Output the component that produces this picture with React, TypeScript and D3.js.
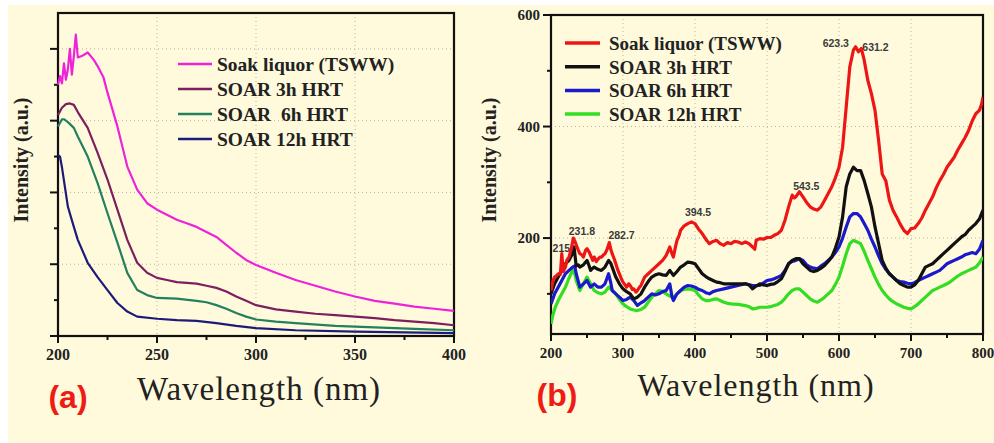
import React from "react";
import * as d3 from "d3";

// ---------- Panel (a): UV-Vis absorbance ----------
const uvLegend = ["Soak liquor (TSWW)", "SOAR 3h HRT", "SOAR  6h HRT", "SOAR 12h HRT"];
const uvColors = ["#ee22d8", "#7d1f5f", "#23805f", "#1d1b7a"];
const uvXTicks = [200, 250, 300, 350, 400];

const uvSoak: [number, number][] = [
  [200, 3.5], [201, 3.62], [202, 3.52], [203, 3.8], [204, 3.57], [205, 3.72], [206, 4.0],
  [207, 3.64], [208, 3.9], [209, 4.2], [210, 3.88], [212, 3.9], [215, 3.95], [218, 3.85],
  [220, 3.76], [223, 3.6], [225, 3.39], [230, 2.92], [235, 2.36], [240, 2.04], [245, 1.85],
  [250, 1.76], [255, 1.69], [260, 1.62], [265, 1.57], [270, 1.52], [275, 1.45], [280, 1.38],
  [285, 1.27], [290, 1.16], [295, 1.06], [300, 0.99], [310, 0.88], [320, 0.78], [330, 0.7],
  [340, 0.62], [350, 0.55], [360, 0.49], [370, 0.45], [380, 0.41], [390, 0.38], [400, 0.35],
];
const uv3h: [number, number][] = [
  [200, 3.08], [202, 3.18], [204, 3.23], [206, 3.24], [208, 3.22], [210, 3.12], [215, 2.9],
  [220, 2.55], [225, 2.18], [230, 1.76], [235, 1.34], [240, 1.02], [245, 0.88], [250, 0.81],
  [255, 0.78], [260, 0.75], [270, 0.73], [275, 0.7], [280, 0.67], [285, 0.62], [290, 0.55],
  [295, 0.49], [300, 0.43], [310, 0.37], [320, 0.34], [330, 0.31], [340, 0.29], [350, 0.27],
  [360, 0.25], [370, 0.22], [380, 0.2], [390, 0.18], [400, 0.15],
];
const uv6h: [number, number][] = [
  [200, 2.92], [202, 3.02], [203, 3.02], [205, 2.98], [208, 2.9], [210, 2.78], [215, 2.5],
  [220, 2.13], [225, 1.71], [230, 1.3], [235, 0.88], [240, 0.64], [245, 0.57], [250, 0.53],
  [260, 0.52], [270, 0.49], [275, 0.47], [280, 0.43], [285, 0.38], [290, 0.32], [295, 0.27],
  [300, 0.23], [310, 0.2], [320, 0.18], [340, 0.14], [360, 0.12], [380, 0.1], [400, 0.08],
];
const uv12h: [number, number][] = [
  [200, 2.52], [201, 2.5], [202, 2.35], [205, 1.8], [208, 1.52], [210, 1.34], [215, 1.02],
  [220, 0.82], [225, 0.64], [230, 0.46], [235, 0.34], [240, 0.27], [250, 0.24], [260, 0.22],
  [270, 0.21], [280, 0.18], [290, 0.14], [300, 0.11], [320, 0.08], [350, 0.06], [400, 0.04],
];

// ---------- Panel (b): fluorescence emission ----------
const flLegend = ["Soak liquor (TSWW)", "SOAR 3h HRT", "SOAR 6h HRT", "SOAR 12h HRT"];
const flColors = ["#ee1515", "#111111", "#1a1acc", "#33dd22"];
const flXTicks = [200, 300, 400, 500, 600, 700, 800];
const flYTicks = [200, 400, 600];

const flSoak: [number, number][] = [
  [200, 106], [203, 125], [205, 130], [208, 133], [210, 136], [213, 135], [215, 172], [217, 140],
  [220, 148], [222, 160], [225, 166], [228, 180], [231, 200], [233, 195], [235, 188], [238, 178],
  [240, 172], [243, 170], [245, 166], [248, 178], [250, 181], [253, 175], [255, 169], [258, 160],
  [260, 166], [263, 158], [265, 162], [268, 166], [270, 166], [273, 170], [275, 172], [278, 180],
  [281, 192], [283, 180], [285, 172], [288, 162], [290, 154], [293, 142], [295, 136], [298, 126],
  [300, 121], [303, 116], [305, 112], [308, 118], [310, 115], [313, 108], [315, 109], [318, 103],
  [320, 106], [323, 112], [325, 115], [328, 124], [330, 130], [335, 136], [340, 142], [345, 148],
  [350, 154], [355, 160], [360, 169], [363, 178], [365, 184], [368, 172], [370, 166], [373, 185],
  [375, 196], [378, 205], [380, 214], [385, 222], [390, 226], [395, 229], [400, 226], [405, 216],
  [410, 208], [415, 198], [420, 190], [425, 194], [430, 196], [435, 190], [440, 187], [445, 192],
  [450, 190], [455, 194], [460, 193], [465, 190], [470, 193], [475, 190], [480, 184], [483, 180],
  [485, 196], [490, 199], [495, 198], [500, 201], [505, 201], [510, 205], [515, 208], [520, 214],
  [525, 232], [530, 256], [535, 277], [538, 272], [540, 274], [545, 283], [550, 274], [555, 264],
  [560, 256], [565, 252], [570, 250], [575, 256], [580, 268], [585, 280], [590, 292], [595, 308],
  [600, 327], [605, 363], [610, 435], [615, 507], [620, 537], [623, 543], [627, 534], [631, 540],
  [635, 519], [640, 483], [645, 459], [650, 429], [655, 375], [660, 315], [665, 303], [670, 268],
  [675, 250], [680, 238], [685, 225], [690, 214], [695, 208], [700, 217], [705, 218], [710, 226],
  [715, 236], [720, 250], [725, 262], [730, 274], [735, 290], [740, 303], [745, 314], [750, 327],
  [755, 336], [760, 345], [765, 358], [770, 369], [775, 380], [780, 393], [785, 410], [790, 423],
  [795, 429], [798, 440], [800, 453],
];
const fl3h: [number, number][] = [
  [200, 100], [205, 118], [210, 130], [215, 142], [220, 154], [225, 160], [229, 170], [232, 184],
  [235, 150], [238, 152], [240, 148], [245, 152], [250, 160], [253, 150], [255, 142], [258, 146],
  [260, 148], [265, 144], [270, 142], [275, 148], [280, 160], [283, 155], [285, 148], [290, 130],
  [295, 118], [300, 109], [305, 104], [310, 100], [315, 91], [320, 94], [325, 100], [330, 112],
  [335, 122], [340, 130], [345, 134], [350, 136], [355, 134], [360, 133], [365, 142], [370, 133],
  [375, 140], [380, 148], [385, 152], [390, 157], [395, 156], [400, 154], [405, 145], [410, 136],
  [415, 131], [420, 127], [425, 124], [430, 121], [435, 120], [440, 118], [450, 118], [460, 118],
  [470, 118], [475, 116], [480, 109], [485, 114], [490, 118], [495, 116], [500, 115], [505, 117],
  [510, 118], [515, 122], [520, 127], [525, 140], [530, 154], [535, 160], [540, 163], [545, 163],
  [550, 154], [555, 148], [560, 142], [565, 140], [570, 142], [575, 146], [580, 151], [585, 158],
  [590, 166], [595, 182], [600, 202], [605, 238], [610, 292], [615, 315], [620, 327], [625, 321],
  [630, 321], [635, 303], [640, 280], [645, 256], [650, 220], [655, 190], [660, 160], [665, 146],
  [670, 136], [675, 130], [680, 124], [685, 118], [690, 115], [695, 112], [700, 112], [705, 116],
  [710, 124], [715, 136], [720, 148], [725, 151], [730, 154], [735, 160], [740, 166], [745, 172],
  [750, 178], [755, 184], [760, 190], [765, 196], [770, 202], [775, 206], [780, 214], [785, 220],
  [790, 226], [795, 234], [800, 250],
];
const fl6h: [number, number][] = [
  [200, 82], [205, 100], [210, 112], [215, 124], [220, 136], [225, 142], [230, 148], [233, 150],
  [235, 136], [238, 122], [240, 112], [245, 118], [250, 124], [255, 112], [260, 118], [265, 112],
  [270, 112], [275, 118], [280, 136], [283, 120], [285, 106], [290, 100], [295, 94], [300, 88],
  [305, 90], [310, 94], [315, 88], [320, 79], [325, 84], [330, 88], [335, 94], [340, 100],
  [345, 98], [350, 100], [355, 104], [360, 106], [365, 118], [368, 95], [370, 88], [375, 100],
  [380, 106], [385, 112], [390, 115], [395, 114], [400, 112], [405, 108], [410, 106], [415, 102],
  [420, 100], [425, 104], [430, 106], [440, 109], [450, 112], [460, 115], [470, 118], [480, 115],
  [490, 115], [500, 124], [505, 125], [510, 127], [515, 130], [520, 133], [525, 142], [530, 154],
  [535, 158], [540, 160], [545, 163], [550, 160], [555, 152], [560, 148], [565, 146], [570, 145],
  [575, 150], [580, 154], [585, 160], [590, 166], [595, 174], [600, 184], [605, 200], [610, 220],
  [615, 238], [620, 244], [625, 244], [630, 238], [635, 226], [640, 214], [645, 198], [650, 184],
  [655, 168], [660, 154], [665, 144], [670, 136], [675, 130], [680, 124], [685, 122], [690, 121],
  [695, 119], [700, 118], [705, 120], [710, 124], [715, 127], [720, 130], [725, 133], [730, 136],
  [735, 139], [740, 142], [745, 148], [750, 154], [755, 157], [760, 160], [765, 163], [770, 166],
  [775, 170], [780, 172], [785, 174], [790, 172], [795, 180], [800, 196],
];
const fl12h: [number, number][] = [
  [200, 46], [203, 64], [206, 76], [210, 88], [215, 100], [220, 112], [225, 128], [230, 142],
  [233, 136], [235, 124], [240, 106], [245, 118], [250, 130], [255, 118], [260, 106], [265, 102],
  [270, 100], [275, 103], [280, 112], [285, 106], [290, 100], [295, 90], [300, 82], [305, 77],
  [310, 73], [315, 71], [320, 70], [325, 72], [330, 76], [335, 85], [340, 94], [345, 100],
  [350, 106], [355, 104], [360, 100], [365, 96], [370, 94], [375, 100], [380, 106], [385, 108],
  [390, 109], [395, 108], [400, 106], [405, 98], [410, 91], [415, 88], [420, 88], [425, 90],
  [430, 91], [435, 88], [440, 85], [445, 83], [450, 82], [460, 81], [470, 79], [475, 77],
  [480, 73], [485, 74], [490, 76], [500, 76], [505, 77], [510, 79], [515, 81], [520, 85],
  [525, 92], [530, 100], [535, 106], [540, 109], [545, 109], [550, 103], [555, 97], [560, 91],
  [565, 87], [570, 85], [575, 89], [580, 94], [585, 100], [590, 106], [595, 117], [600, 130],
  [605, 150], [610, 172], [615, 190], [620, 196], [625, 193], [630, 190], [635, 176], [640, 160],
  [645, 145], [650, 130], [655, 117], [660, 106], [665, 98], [670, 91], [675, 86], [680, 82],
  [685, 79], [690, 76], [695, 74], [700, 73], [705, 77], [710, 82], [715, 88], [720, 94],
  [725, 100], [730, 106], [735, 109], [740, 112], [745, 115], [750, 118], [755, 122], [760, 127],
  [765, 132], [770, 136], [775, 139], [780, 142], [785, 145], [790, 148], [795, 155], [800, 166],
];

// peak positions labelled on the emission spectrum
const flPeaks = ["215.", "231.8", "282.7", "394.5", "543.5", "623.3", "631.2"];
const flPeakAt: [number, number][] = [
  [215, 172], [231.8, 200], [282.7, 192], [394.5, 229], [543.5, 283], [623.3, 543], [631.2, 540],
];

const SERIF = "'Liberation Serif', 'Times New Roman', serif";
const SANS = "'Liberation Sans', Arial, sans-serif";

type Box = { l: number; r: number; t: number; b: number };

function Frame({
  box, x, y, xMajor, xMinor, yMajor, yMinor, yLabels, tickFont,
}: {
  box: Box;
  x: d3.ScaleLinear<number, number>;
  y: d3.ScaleLinear<number, number>;
  xMajor: number[]; xMinor: number[]; yMajor: number[]; yMinor: number[];
  yLabels: boolean; tickFont: number;
}) {
  return (
    <g>
      {/* dotted grid */}
      {xMajor.filter((v) => x(v) > box.l + 1 && x(v) < box.r - 1).map((v) => (
        <line key={"gx" + v} x1={x(v)} x2={x(v)} y1={box.t} y2={box.b}
          stroke="#b8b4a0" strokeWidth={1} strokeDasharray="1 3" />
      ))}
      {yMajor.filter((v) => y(v) > box.t + 1 && y(v) < box.b - 1).map((v) => (
        <line key={"gy" + v} x1={box.l} x2={box.r} y1={y(v)} y2={y(v)}
          stroke="#b8b4a0" strokeWidth={1} strokeDasharray="1 3" />
      ))}
      {/* ticks */}
      {xMajor.map((v) => (
        <line key={"tx" + v} x1={x(v)} x2={x(v)} y1={box.b} y2={box.b + 7} stroke="#111" strokeWidth={2} />
      ))}
      {xMinor.map((v) => (
        <line key={"mx" + v} x1={x(v)} x2={x(v)} y1={box.b} y2={box.b + 4} stroke="#111" strokeWidth={2} />
      ))}
      {yMajor.map((v) => (
        <line key={"ty" + v} x1={box.l - 8} x2={box.l} y1={y(v)} y2={y(v)} stroke="#111" strokeWidth={2} />
      ))}
      {yMinor.map((v) => (
        <line key={"my" + v} x1={box.l - 4} x2={box.l} y1={y(v)} y2={y(v)} stroke="#111" strokeWidth={2} />
      ))}
      {xMajor.map((v) => (
        <text key={"lx" + v} x={x(v)} y={box.b + 24} textAnchor="middle"
          fontFamily={SERIF} fontWeight="bold" fontSize={tickFont} fill="#222">{v}</text>
      ))}
      {yLabels && yMajor.map((v) => (
        <text key={"ly" + v} x={box.l - 11} y={y(v) + 5} textAnchor="end"
          fontFamily={SERIF} fontWeight="bold" fontSize={tickFont} fill="#222">{v}</text>
      ))}
      <rect x={box.l} y={box.t} width={box.r - box.l} height={box.b - box.t}
        fill="none" stroke="#111" strokeWidth={2.2} />
    </g>
  );
}

export default function App() {
  // panel (a)
  const boxA: Box = { l: 58, r: 454, t: 13, b: 336 };
  const xA = d3.scaleLinear().domain([200, 400]).range([boxA.l, boxA.r]);
  const yA = d3.scaleLinear().domain([0, 4.5]).range([boxA.b, boxA.t]);
  const lineA = d3.line<[number, number]>().x((d) => xA(d[0])).y((d) => yA(d[1])).curve(d3.curveLinear);
  const uvSeries = [uvSoak, uv3h, uv6h, uv12h];

  // panel (b)
  const boxB: Box = { l: 551, r: 983, t: 15, b: 334 };
  const xB = d3.scaleLinear().domain([200, 800]).range([boxB.l, boxB.r]);
  const yB = d3.scaleLinear().domain([28, 600]).range([boxB.b, boxB.t]);
  const lineB = d3.line<[number, number]>().x((d) => xB(d[0])).y((d) => yB(d[1])).curve(d3.curveLinear);
  const flSeries = [flSoak, fl3h, fl6h, fl12h];

  // label offsets from each peak, in px
  const peakOffsets: [number, number][] = [
    [1, -2], [8, -3], [11, -4], [7, -6], [8, -2], [-20, 0], [14, 3],
  ];

  return (
    <svg width={994} height={443} style={{ position: "absolute", left: 0, top: 0 }}
      xmlns="http://www.w3.org/2000/svg">
      <rect x={0} y={0} width={994} height={443} fill="#ffffff" />
      <rect x={8} y={5} width={986} height={438} fill="#fffadc" />

      {/* ---------- (a) ---------- */}
      <Frame box={boxA} x={xA} y={yA}
        xMajor={uvXTicks} xMinor={[225, 275, 325, 375]}
        yMajor={[0, 1, 2, 3, 4]} yMinor={[0.5, 1.5, 2.5, 3.5]}
        yLabels={false} tickFont={16} />
      <g>
        {uvSeries.map((s, i) => (
          <path key={"ua" + i} d={lineA(s) || ""} fill="none" stroke={uvColors[i]}
            strokeWidth={2.2} strokeLinejoin="round" />
        ))}
      </g>
      {uvLegend.map((name, i) => (
        <g key={"la" + i}>
          <line x1={178} x2={212} y1={64 + i * 25} y2={64 + i * 25} stroke={uvColors[i]} strokeWidth={2.5} />
          <text x={217} y={71 + i * 25} fontFamily={SERIF} fontWeight="bold" fontSize={19.5}
            fill="#222" style={{ whiteSpace: "pre" }}>{name}</text>
        </g>
      ))}
      <text transform="translate(28,160) rotate(-90)" textAnchor="middle" fontFamily={SERIF}
        fontWeight="bold" fontSize={20} fill="#222">Intensity (a.u.)</text>
      <text x={259} y={400} textAnchor="middle" fontFamily={SERIF} fontSize={33}
        letterSpacing={1} fill="#222">Wavelength (nm)</text>
      <text x={68} y={408} textAnchor="middle" fontFamily={SANS} fontWeight="bold" fontSize={32}
        fill="#ee1c14">(a)</text>

      {/* ---------- (b) ---------- */}
      <Frame box={boxB} x={xB} y={yB}
        xMajor={flXTicks} xMinor={[250, 350, 450, 550, 650, 750]}
        yMajor={flYTicks} yMinor={[100, 300, 500]}
        yLabels={true} tickFont={15} />
      <defs>
        <clipPath id="clipB">
          <rect x={boxB.l} y={boxB.t} width={boxB.r - boxB.l} height={boxB.b - boxB.t} />
        </clipPath>
      </defs>
      {flPeaks.map((lab, i) => (
        <text key={"pk" + i} x={xB(flPeakAt[i][0]) + peakOffsets[i][0]} y={yB(flPeakAt[i][1]) + peakOffsets[i][1]}
          textAnchor="middle" fontFamily={SANS} fontWeight="bold" fontSize={10.5} fill="#3a3a3a">{lab}</text>
      ))}
      <g clipPath="url(#clipB)">
        {[3, 2, 1, 0].map((i) => (
          <path key={"fb" + i} d={lineB(flSeries[i]) || ""} fill="none" stroke={flColors[i]}
            strokeWidth={3.2} strokeLinejoin="round" />
        ))}
      </g>
      {flLegend.map((name, i) => (
        <g key={"lb" + i}>
          <line x1={565} x2={600} y1={43 + i * 23.7} y2={43 + i * 23.7} stroke={flColors[i]} strokeWidth={3.5} />
          <text x={609} y={50 + i * 23.7} fontFamily={SERIF} fontWeight="bold" fontSize={19}
            fill="#222">{name}</text>
        </g>
      ))}
      <text transform="translate(496,160) rotate(-90)" textAnchor="middle" fontFamily={SERIF}
        fontWeight="bold" fontSize={20} fill="#222">Intensity (a.u.)</text>
      <text x={756} y={396} textAnchor="middle" fontFamily={SERIF} fontSize={32}
        letterSpacing={1} fill="#222">Wavelength (nm)</text>
      <text x={557} y={406} textAnchor="middle" fontFamily={SANS} fontWeight="bold" fontSize={32}
        fill="#ee1c14">(b)</text>
    </svg>
  );
}
